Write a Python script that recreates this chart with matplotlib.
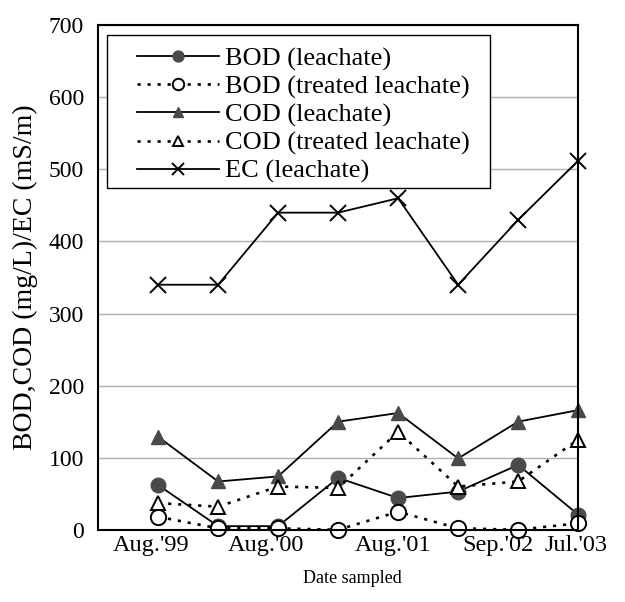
import matplotlib.pyplot as plt
from matplotlib.patches import Rectangle
from matplotlib.transforms import ScaledTranslation
import numpy as np

plt.rcParams['font.family'] = ['Liberation Serif', 'DejaVu Serif']

# sampling occasions (8 visits), only some are labelled on the axis
x = np.arange(8)
tick_pos = [0, 2, 4, 6, 7]
tick_labels = ["Aug.'99", "Aug.'00", "Aug.'01", "Sep.'02", "Jul.'03"]

bod_leach = [62, 5, 5, 72, 44, 53, 90, 21]
bod_treat = [18, 2, 2, 0, 25, 2, 0, 9]
cod_leach = [129, 67, 74, 150, 162, 99, 150, 166]
cod_treat = [37, 32, 60, 58, 136, 60, 67, 125]
ec_leach = [340, 340, 440, 440, 460, 340, 430, 512]

fig = plt.figure(figsize=(6.25, 6.02), dpi=100)
ax = fig.add_axes([0.157, 0.12, 0.768, 0.838])

grey = '#4a4a4a'
dots = (0, (1.2, 2.6))
ax.plot(x, bod_leach, '-', color='black', lw=1.3, marker='o', ms=10.5,
        mfc=grey, mec=grey, label='BOD (leachate)', clip_on=False)
ax.plot(x, bod_treat, ls=dots, color='black', lw=1.9, marker='o', ms=11,
        mfc='white', mec='black', mew=1.4, label='BOD (treated leachate)', clip_on=False)
ax.plot(x, cod_leach, '-', color='black', lw=1.3, marker='^', ms=10.5,
        mfc=grey, mec=grey, label='COD (leachate)', clip_on=False)
ax.plot(x, cod_treat, ls=dots, color='black', lw=1.9, marker='^', ms=10.5,
        mfc='white', mec='black', mew=1.4, label='COD (treated leachate)', clip_on=False)
ax.plot(x, ec_leach, '-', color='black', lw=1.3, marker='x', ms=12,
        mew=1.4, label='EC (leachate)', clip_on=False)

ax.set_xlim(-1, 7)
ax.set_ylim(0, 700)
ax.set_yticks(np.arange(0, 701, 100))
ax.set_xticks(tick_pos)
ax.set_xticklabels(tick_labels)
ax.tick_params(axis='x', length=0, labelsize=17.5, pad=4)
ax.tick_params(axis='y', length=0, labelsize=17, pad=10)
# the labels in the original sit a little left of their points
nudge = [-7, -12, -5, -20, -2]
for lab, dx in zip(ax.get_xticklabels(), nudge):
    lab.set_transform(lab.get_transform() + ScaledTranslation(dx / 100, 0, fig.dpi_scale_trans))
ax.yaxis.grid(True, color='#b0b0b0', lw=1)
ax.set_axisbelow(True)
for s in ax.spines.values():
    s.set_linewidth(1.5)

ax.set_xlabel('Date sampled', fontsize=13)
ax.xaxis.set_label_coords(0.529, -0.08)
ax.set_ylabel('BOD,COD (mg/L)/EC (mS/m)', fontsize=20, labelpad=8)

leg = ax.legend(loc='upper left', bbox_to_anchor=(0.081, 0.957), fontsize=19,
                handlelength=3.1, frameon=False, markerscale=0.75,
                borderpad=0, labelspacing=0.16, handletextpad=0.25,
                borderaxespad=0)
ax.add_patch(Rectangle((0.019, 0.677), 0.798, 0.303, transform=ax.transAxes,
                       facecolor='white', edgecolor='black', lw=1.0, zorder=4))
leg.set_zorder(5)

fig.savefig('out.png', dpi=100)
